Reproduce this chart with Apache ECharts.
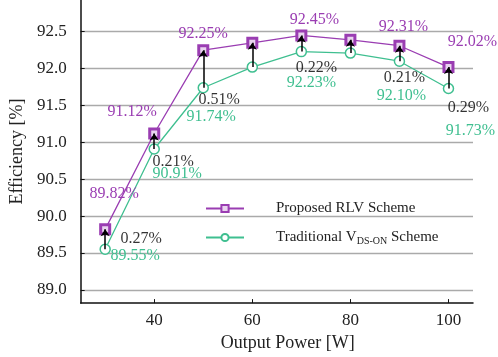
<!DOCTYPE html>
<html><head><meta charset="utf-8">
<script src="https://cdn.jsdelivr.net/npm/echarts@6/dist/echarts.min.js"></script>
<style>html,body{margin:0;padding:0;background:#fff}#c{width:498px;height:357px}</style>
</head><body><div id="c"></div>
<script>
const power = [30, 40, 50, 60, 70, 80, 90, 100];
const proposed = [89.82, 91.12, 92.25, 92.35, 92.45, 92.39, 92.31, 92.02];
const traditional = [89.55, 90.91, 91.74, 92.02, 92.23, 92.21, 92.10, 91.73];
const proposedLabels = ['89.82%', '91.12%', '92.25%', '', '92.45%', '', '92.31%', '92.02%'];
const traditionalLabels = ['89.55%', '90.91%', '91.74%', '', '92.23%', '', '92.10%', '91.73%'];
const diffLabels = ['0.27%', '0.21%', '0.51%', '', '0.22%', '', '0.21%', '0.29%'];
const yTicks = [89.0, 89.5, 90.0, 90.5, 91.0, 91.5, 92.0, 92.5];
const xTicks = [40, 60, 80, 100];

const PURPLE = '#9a3db2', TEAL = '#3fbf90';
const FONT = '"Liberation Serif", "Times New Roman", serif';
const propOff = [[9,-36],[-22,-22],[0,-16],[0,0],[13,-16],[0,0],[4,-19],[24,-25]];
const tradOff = [[30,7],[23,25],[8,29],[0,0],[10,31],[0,0],[2,35],[22,42]];
const diffOff = [[36,-10],[19,13],[16,12],[0,0],[15,16],[0,0],[5,17],[20,19]];

function lbl(texts, offs, color) {
  return (v, i) => ({
    value: v,
    label: { show: texts[i] !== '', formatter: texts[i], position: 'inside', offset: offs[i],
      color: color, fontFamily: FONT, fontSize: 16 }
  });
}

const chart = echarts.init(document.getElementById('c'));
chart.setOption({
  animation: false,
  grid: { left: 74, right: 25, top: 0, bottom: 52 },
  xAxis: {
    type: 'value', min: 25, max: 105,
    name: 'Output Power [W]', nameLocation: 'middle', nameGap: 30,
    nameTextStyle: { fontFamily: FONT, fontSize: 18, color: '#222', padding: [0,0,0,22] },
    axisLine: { lineStyle: { color: '#111', width: 1.5 } },
    axisTick: { show: true, inside: true, length: 4, customValues: xTicks, lineStyle: { color: '#111' } },
    axisLabel: { customValues: xTicks, fontFamily: FONT, fontSize: 17, color: '#222', margin: 9 },
    splitLine: { show: false }
  },
  yAxis: {
    type: 'value', min: 88.82, max: 92.93,
    name: 'Efficiency [%]', nameLocation: 'middle', nameGap: 52,
    nameTextStyle: { fontFamily: FONT, fontSize: 18, color: '#222' },
    axisLine: { show: true, lineStyle: { color: '#111', width: 1.5 } },
    axisTick: { show: true, inside: true, length: 4, customValues: yTicks, lineStyle: { color: '#111' } },
    axisLabel: { customValues: yTicks, formatter: v => v.toFixed(1), fontFamily: FONT, fontSize: 17, color: '#222', margin: 14 },
    splitLine: { show: true, lineStyle: { color: '#aaa', width: 1.3 } }
  },
  legend: {
    orient: 'vertical', left: 200, top: 196, itemWidth: 38, itemHeight: 9, itemGap: 14,
    formatter: name => name === 'Traditional' ? 'Traditional V{sub|DS-ON} Scheme' : 'Proposed RLV Scheme',
    textStyle: { fontFamily: FONT, fontSize: 15, color: '#222', padding: [0,0,0,27],
      rich: { sub: { fontFamily: FONT, fontSize: 10, color: '#222', padding: [7,0,0,0] } } },
    data: ['Proposed', 'Traditional']
  },
  series: [
    {
      name: 'Arrows', type: 'lines', coordinateSystem: 'cartesian2d', z: 5,
      symbol: ['none', 'arrow'], symbolSize: 7,
      lineStyle: { color: '#000', width: 1.5, opacity: 1 },
      data: power.map((p, i) => ({ coords: [[p, traditional[i]], [p, proposed[i]]] }))
    },
    {
      name: 'Proposed', type: 'line', z: 3,
      symbol: 'rect', symbolSize: 9,
      lineStyle: { color: PURPLE, width: 1.3 },
      itemStyle: { color: '#e9d4ef', borderColor: PURPLE, borderWidth: 3 },
      data: proposed.map((v, i) => [power[i], v]).map((d, i) => lbl(proposedLabels, propOff, PURPLE)(d, i))
    },
    {
      name: 'Traditional', type: 'line', z: 2,
      symbol: 'circle', symbolSize: 10,
      lineStyle: { color: TEAL, width: 1.3 },
      itemStyle: { color: '#fff', borderColor: TEAL, borderWidth: 1.5 },
      data: traditional.map((v, i) => [power[i], v]).map((d, i) => lbl(traditionalLabels, tradOff, TEAL)(d, i))
    },
    {
      name: 'Diff', type: 'scatter', z: 6, symbolSize: 1, itemStyle: { color: 'rgba(0,0,0,0)' },
      data: traditional.map((v, i) => [power[i], v]).map((d, i) => lbl(diffLabels, diffOff, '#000')(d, i))
    }
  ]
});
</script></body></html>
